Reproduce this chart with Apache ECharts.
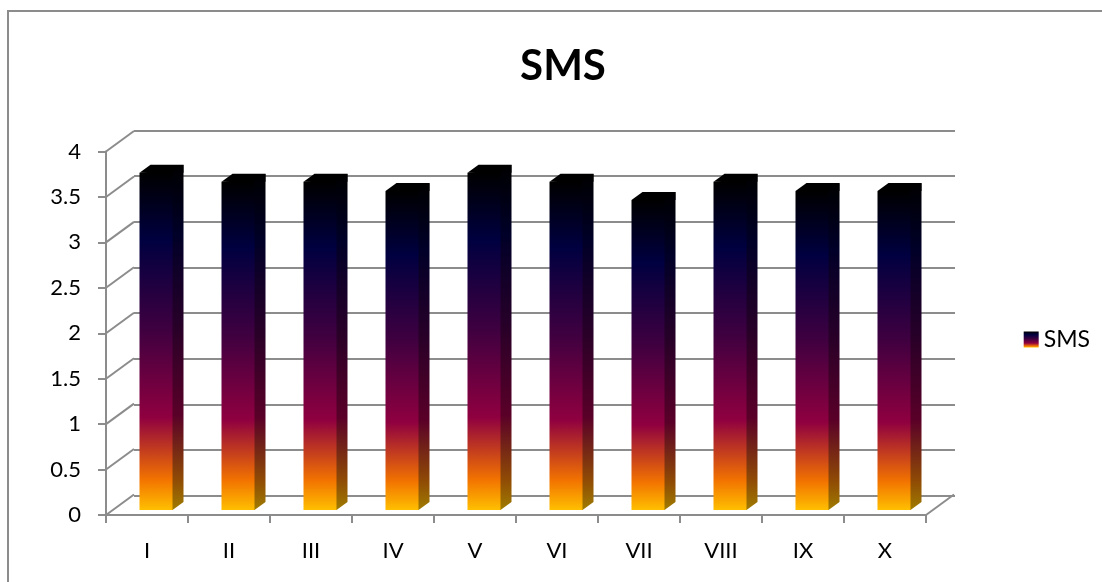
<!DOCTYPE html>
<html><head><meta charset="utf-8">
<style>html,body{margin:0;padding:0;background:#fff}#c{width:1102px;height:582px}</style>
<script src="https://cdn.jsdelivr.net/npm/echarts@6/dist/echarts.min.js"></script>
</head><body><div id="c"></div>
<script>
var categories = ['I','II','III','IV','V','VI','VII','VIII','IX','X'];
var smsValues = [3.7,3.6,3.6,3.5,3.7,3.6,3.4,3.6,3.5,3.5];
var yTicks = [0,0.5,1,1.5,2,2.5,3,3.5,4];
var seriesName = 'SMS';
var chartTitle = 'SMS';

var FONT = 'Lato, "Open Sans", sans-serif';
var GRAY = '#8c8c8c';
var WALL_DX = 28, WALL_DY = -20.5;
var BAR_W = 33, BAR_DX = 11, BAR_DY = -8, BAR_SHIFT_X = 9, BAR_TOP_Y = -6, BAR_BOT_Y = -5;

function grad(stops){
  return new echarts.graphic.LinearGradient(0,0,0,1,stops.map(function(s){return {offset:s[0],color:s[1]};}));
}
var frontStops = [[0,'#000000'],[0.2,'#000040'],[0.47,'#400040'],[0.725,'#8f0040'],[0.91,'#f27300'],[1,'#ffbf00']];
var sideStops  = [[0,'#000000'],[0.2,'#000028'],[0.47,'#280028'],[0.725,'#5a0028'],[0.91,'#8f4a05'],[1,'#a07c00']];

var chart = echarts.init(document.getElementById('c'), null, {renderer:'canvas'});
chart.setOption({
  animation:false,
  backgroundColor:'#fff',
  title:{text:chartTitle,left:558,top:36,textAlign:'center',
    textStyle:{fontFamily:FONT,fontWeight:'bold',fontSize:42,color:'#000',lineHeight:50}},
  legend:{show:true,right:7,top:323,itemWidth:15,itemHeight:16,itemGap:7,icon:'rect',
    data:[{name:seriesName,itemStyle:{color:grad(frontStops)}}],
    textStyle:{fontFamily:FONT,fontSize:23,color:'#000'}},
  graphic:[{type:'polyline',silent:true,z:0,shape:{points:[[8,582],[8,11],[1102,11]]},style:{stroke:GRAY,lineWidth:2,fill:null}}],
  grid:[
    {left:106,right:176,top:151.5,bottom:67},
    {left:106+WALL_DX,right:147,top:130.5,bottom:86.5}
  ],
  xAxis:[
    {type:'category',gridIndex:0,data:categories,
      axisLine:{lineStyle:{color:GRAY,width:2}},
      axisTick:{show:true,length:8,lineStyle:{color:GRAY,width:2}},
      axisLabel:{fontFamily:FONT,fontSize:22,color:'#000',margin:25},splitLine:{show:false}},
    {type:'category',gridIndex:1,data:categories,axisLine:{show:false},axisTick:{show:false},axisLabel:{show:false},splitLine:{show:false}}
  ],
  yAxis:[
    {type:'value',gridIndex:0,min:0,max:4,interval:0.5,
      axisLine:{show:true,lineStyle:{color:GRAY,width:2}},
      axisTick:{show:true,length:8,lineStyle:{color:GRAY,width:2}},
      axisLabel:{fontFamily:FONT,fontSize:22,color:'#000',margin:25,padding:[4,0,0,0]},splitLine:{show:false}},
    {type:'value',gridIndex:1,min:0,max:4,interval:0.5,
      axisLine:{show:false},axisTick:{show:false},axisLabel:{show:false},
      splitLine:{show:true,lineStyle:{color:GRAY,width:2}}}
  ],
  series:[
    {
      type:'custom',name:'wall',xAxisIndex:0,yAxisIndex:0,z:1,silent:true,clip:false,
      data:yTicks.map(function(v){return [0,v];}),
      encode:{x:0,y:1},
      renderItem:function(p,api){
        var a=api.coord([0,api.value(1)]);
        var size=api.size([1,0])[0];
        var x=a[0]-size/2;
        var kids=[{type:'line',shape:{x1:x,y1:a[1],x2:x+WALL_DX,y2:a[1]+WALL_DY},style:{stroke:GRAY,lineWidth:2}}];
        if(api.value(1)===0){
          var xr=x+size*categories.length;
          kids.push({type:'line',shape:{x1:xr,y1:a[1],x2:xr+WALL_DX,y2:a[1]+WALL_DY},style:{stroke:GRAY,lineWidth:2}});
        }
        return {type:'group',children:kids};
      }
    },
    {
      type:'custom',name:seriesName,xAxisIndex:0,yAxisIndex:0,z:3,clip:false,
      itemStyle:{color:grad(frontStops)},
      data:smsValues.map(function(v,i){return [i,v];}),
      encode:{x:0,y:1},
      renderItem:function(p,api){
        var top=api.coord([api.value(0),api.value(1)]);
        var bot=api.coord([api.value(0),0]);
        var l=top[0]+BAR_SHIFT_X-BAR_W/2, r=l+BAR_W;
        var t=top[1]+BAR_TOP_Y, b=bot[1]+BAR_BOT_Y;
        return {type:'group',children:[
          {type:'polygon',shape:{points:[[l,t],[l+BAR_DX,t+BAR_DY],[r+BAR_DX,t+BAR_DY],[r+BAR_DX,t],[r,t+1]]},style:{fill:'#000000'}},
          {type:'polygon',shape:{points:[[r-1,t],[r+BAR_DX,t+BAR_DY],[r+BAR_DX,b+BAR_DY],[r,b],[r-1,b]]},style:{fill:grad(sideStops)}},
          {type:'rect',shape:{x:l,y:t,width:BAR_W,height:b-t},style:{fill:grad(frontStops)}}
        ]};
      }
    }
  ]
});
</script></body></html>
